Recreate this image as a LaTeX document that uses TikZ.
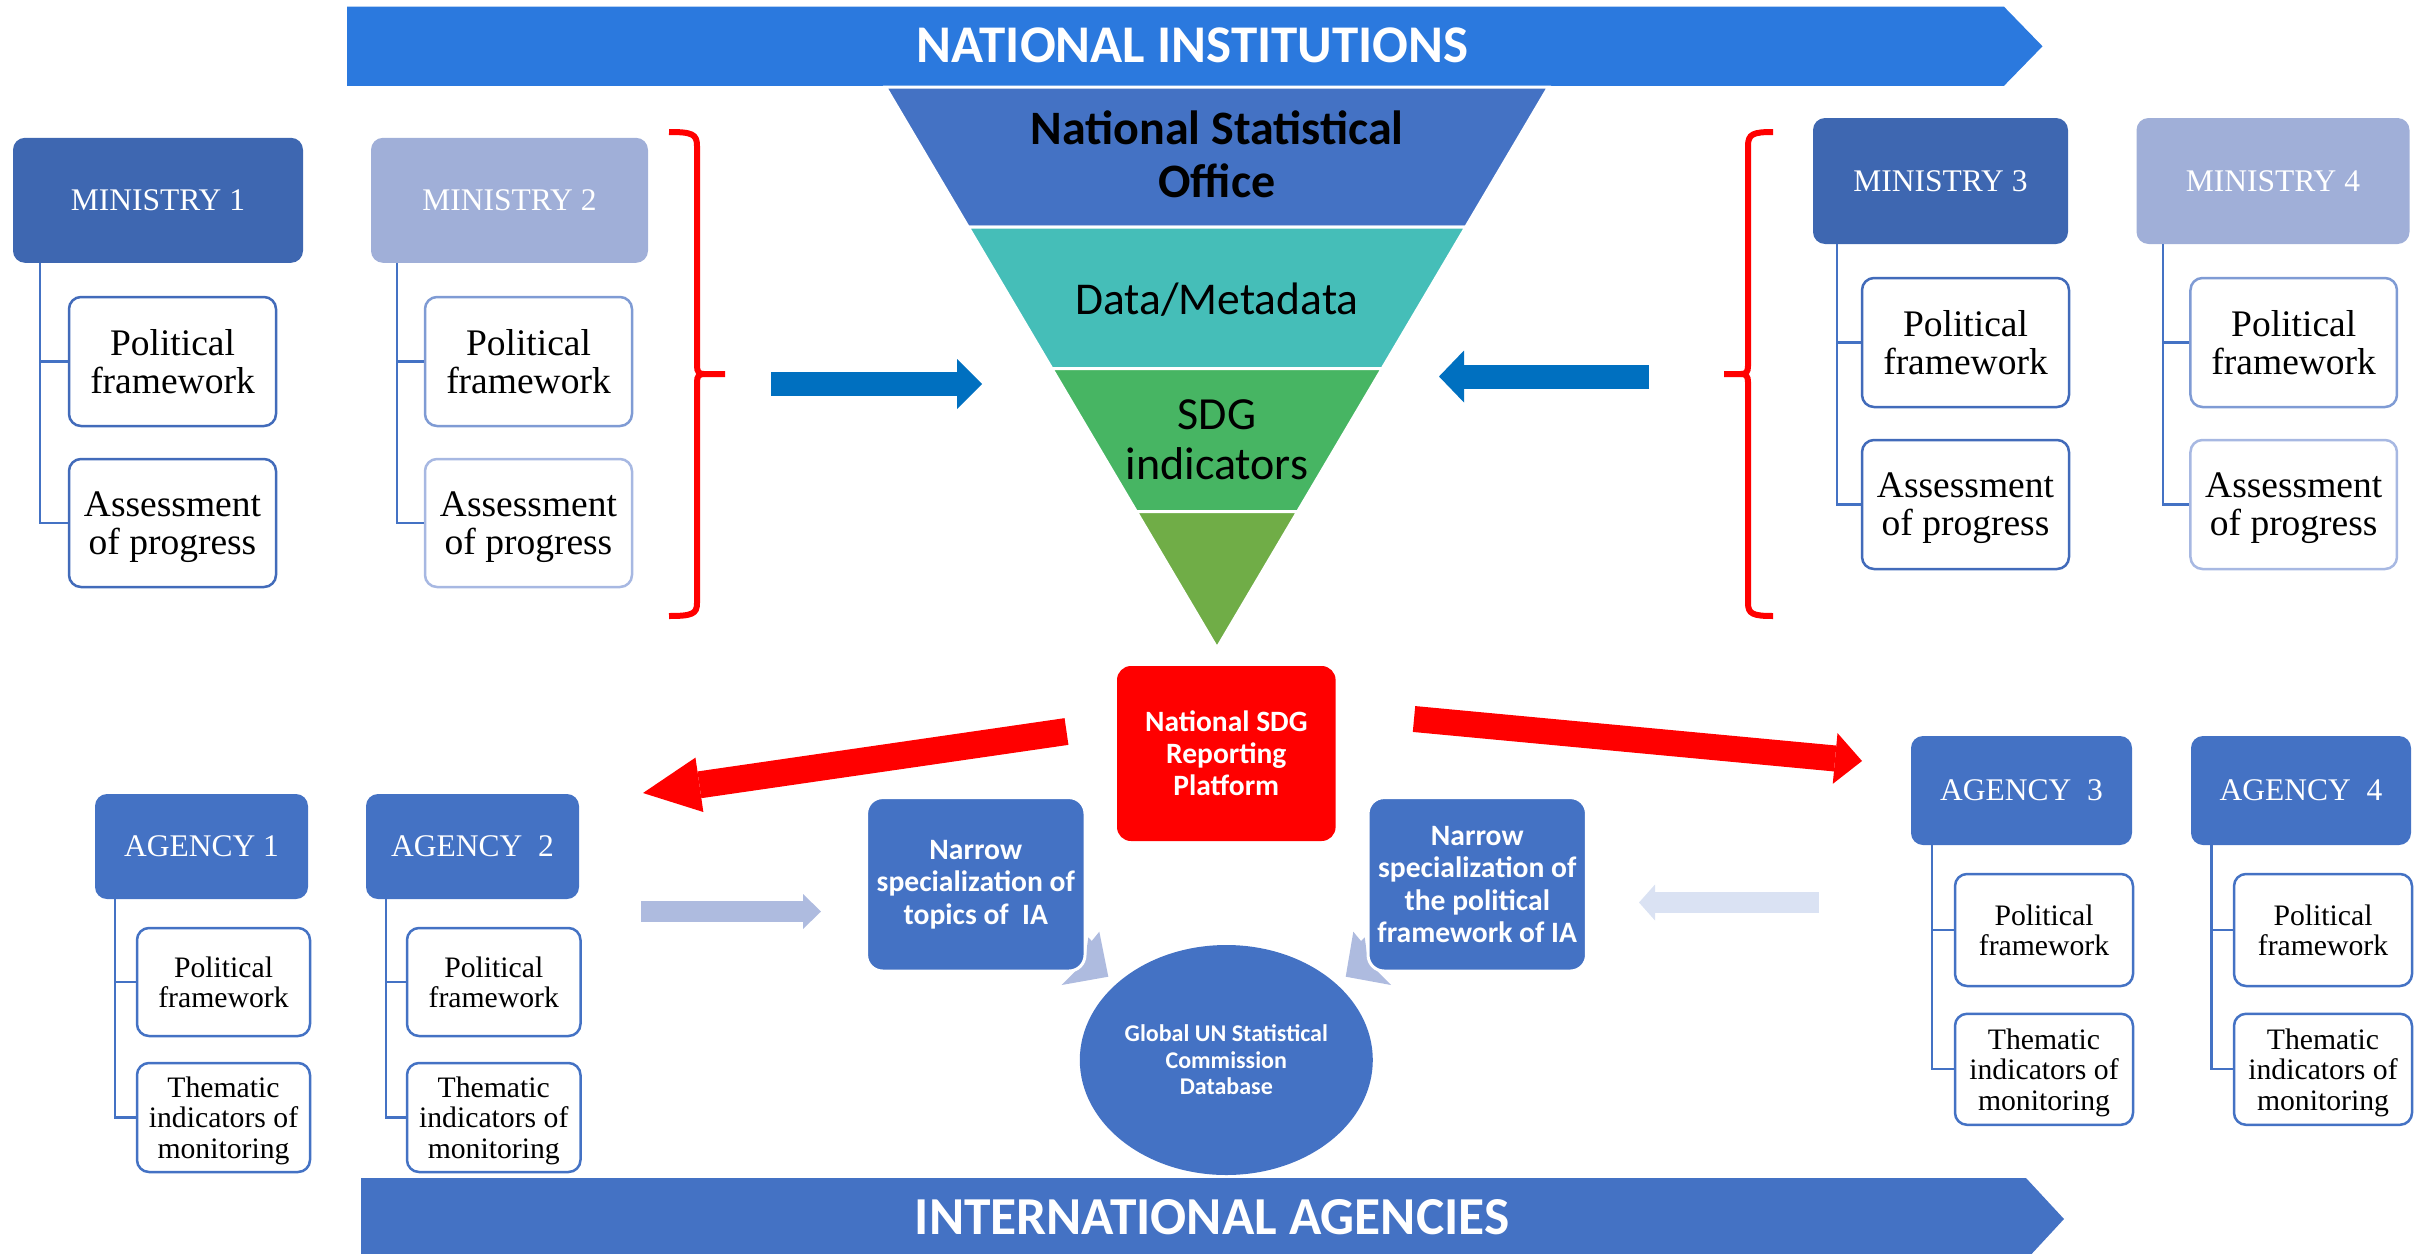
\documentclass[tikz,border=0pt]{standalone}
\usepackage{fontspec}
\setmainfont{Liberation Serif}
\newfontfamily\calfont{Carlito}
\usetikzlibrary{arrows.meta,calc,shapes.geometric}
\definecolor{topblue}{RGB}{43,121,222}
\definecolor{agblue}{RGB}{68,114,196}
\definecolor{mindark}{RGB}{62,103,177}
\definecolor{minlight}{RGB}{160,175,216}
\definecolor{bandteal}{RGB}{69,190,184}
\definecolor{bandgreen}{RGB}{71,181,99}
\definecolor{bandolive}{RGB}{112,173,71}
\definecolor{arrblue}{RGB}{0,112,192}
\definecolor{lightarr}{RGB}{174,187,223}
\definecolor{palearr}{RGB}{218,226,243}
\definecolor{chevcol}{RGB}{174,187,223}
\definecolor{bordermid}{RGB}{127,155,212}
\definecolor{borderpale}{RGB}{167,184,226}
\definecolor{borderdark}{RGB}{66,107,186}
\definecolor{redcol}{RGB}{255,0,0}
\tikzset{
  headbox/.style={rounded corners=12pt, inner sep=0pt, text=white, align=center},
  minbox/.style={headbox, font=\fontsize{31.5}{35}\selectfont},
  agbox/.style={headbox, fill=agblue, font=\fontsize{31.5}{35}\selectfont},
  childbox/.style={draw, line width=2.5pt, fill=white, rounded corners=12pt, inner sep=0pt, align=center, text depth=0pt},
  mchild/.style={childbox, font=\fontsize{37.5}{38}\selectfont},
  achild/.style={childbox, draw=agblue, font=\fontsize{29.7}{30.5}\selectfont},
  treeline/.style={draw=agblue, line width=2.2pt},
  band/.style={draw=white, line width=3pt},
  bracestyle/.style={draw=redcol, line width=6pt},
  sanslabel/.style={inner sep=0pt, align=center},
  narrowbox/.style={fill=agblue, draw=white, line width=3pt, rounded corners=16pt, inner sep=0pt, text=white, align=center, font=\calfont\bfseries\fontsize{29.6}{32.5}\selectfont, minimum width=218.4pt, minimum height=173.4pt},
}
\begin{document}
\begin{tikzpicture}[x=1pt,y=-1pt]
\useasboundingbox (0,0) rectangle (2423,1253);
\clip (0,0) rectangle (2423,1253);

% banners
\fill[topblue] (347,6.7) -- (2004,6.7) -- (2042.5,46.3) -- (2004,85.8) -- (347,85.8) -- cycle;
\node[sanslabel, text=white, font=\calfont\bfseries\fontsize{53}{57}\selectfont] (ni) at (1192.5,45) {NATIONAL INSTITUTIONS};
\fill[agblue] (361,1178) -- (2026,1178) -- (2064,1219) -- (2026,1260) -- (361,1260) -- cycle;
\node[sanslabel, text=white, font=\calfont\bfseries\fontsize{53.4}{57}\selectfont] (ia) at (1212,1217) {INTERNATIONAL AGENCIES};

% pyramid
\filldraw[band, fill=agblue] (885.5,87) -- (1548.5,87) -- (1465.8,227) -- (968.2,227) -- cycle;
\filldraw[band, fill=bandteal] (968.2,227) -- (1465.8,227) -- (1382.2,368.5) -- (1051.8,368.5) -- cycle;
\filldraw[band, fill=bandgreen] (1051.8,368.5) -- (1382.2,368.5) -- (1297.7,511.5) -- (1136.3,511.5) -- cycle;
\filldraw[band, fill=bandolive] (1136.3,511.5) -- (1297.7,511.5) -- (1217,648) -- cycle;
\node[sanslabel, font=\calfont\bfseries\fontsize{48}{53}\selectfont] (nso) at (1217,154) {National Statistical\\Office};
\node[sanslabel, font=\calfont\fontsize{45.5}{50}\selectfont, anchor=base] (dm) at (1217,314) {Data/Metadata};
\node[sanslabel, font=\calfont\fontsize{46}{50}\selectfont] (sdg) at (1217,440) {SDG\\indicators};

% ministries
\node[minbox, fill=mindark, minimum width=290pt, minimum height=125pt] (m1) at (158,200.3) {MINISTRY 1};
\node[minbox, fill=minlight, minimum width=277pt, minimum height=125pt] (m2) at (509.5,200.3) {MINISTRY 2};
\node[minbox, fill=mindark, minimum width=255pt, minimum height=126pt] (m3) at (1940.5,181) {MINISTRY 3};
\node[minbox, fill=minlight, minimum width=273pt, minimum height=126pt] (m4) at (2273,181) {MINISTRY 4};

\node[mchild, draw=borderdark, minimum width=207pt, minimum height=129pt] (m1a) at (172.5,361.5) {Political\\framework};
\node[mchild, draw=borderdark, minimum width=207pt, minimum height=128pt] (m1b) at (172.5,523) {Assessment\\of progress};
\node[mchild, draw=bordermid, minimum width=207pt, minimum height=129pt] (m2a) at (528.5,361.5) {Political\\framework};
\node[mchild, draw=borderpale, minimum width=207pt, minimum height=128pt] (m2b) at (528.5,523) {Assessment\\of progress};
\node[mchild, draw=borderdark, minimum width=207pt, minimum height=129pt] (m3a) at (1965.5,342.5) {Political\\framework};
\node[mchild, draw=borderdark, minimum width=207pt, minimum height=129pt] (m3b) at (1965.5,504.5) {Assessment\\of progress};
\node[mchild, draw=bordermid, minimum width=206.5pt, minimum height=129pt] (m4a) at (2293.7,342.5) {Political\\framework};
\node[mchild, draw=borderpale, minimum width=206.5pt, minimum height=129pt] (m4b) at (2293.7,504.5) {Assessment\\of progress};

\draw[treeline] ($(m1.south west)+(27,0)$) |- (m1a.west);
\draw[treeline] ($(m1.south west)+(27,0)$) |- (m1b.west);
\draw[treeline] ($(m2.south west)+(26,0)$) |- (m2a.west);
\draw[treeline] ($(m2.south west)+(26,0)$) |- (m2b.west);
\draw[treeline] ($(m3.south west)+(24,0)$) |- (m3a.west);
\draw[treeline] ($(m3.south west)+(24,0)$) |- (m3b.west);
\draw[treeline] ($(m4.south west)+(26.5,0)$) |- (m4a.west);
\draw[treeline] ($(m4.south west)+(26.5,0)$) |- (m4b.west);

% braces
\draw[bracestyle] (669,132) .. controls (692,132) and (697,134) .. (697,146) -- (697,366) .. controls (697,372) and (699,374) .. (704,374) -- (725,374);
\draw[bracestyle] (704,374) .. controls (699,374) and (697,376) .. (697,382) -- (697,603) .. controls (697,614) and (692,616) .. (669,616);
\draw[bracestyle] (1773,132) .. controls (1753,132) and (1748,134) .. (1748,146) -- (1748,366) .. controls (1748,372) and (1746,374) .. (1741,374) -- (1724,374);
\draw[bracestyle] (1741,374) .. controls (1746,374) and (1748,376) .. (1748,382) -- (1748,603) .. controls (1748,614) and (1753,616) .. (1773,616);

% blue arrows toward pyramid
\coordinate (bl1) at (771,384);
\coordinate (bl2) at (982,384);
\coordinate (br1) at (1649,376.5);
\coordinate (br2) at (1439,376.5);
\draw[draw=arrblue, line width=24pt, -{Triangle[length=25pt,width=50pt,line width=0pt]}] (bl1) -- (bl2);
\draw[draw=arrblue, line width=24pt, -{Triangle[length=25pt,width=52pt,line width=0pt]}] (br1) -- (br2);

% red platform
\node[fill=redcol, rounded corners=14pt, minimum width=218.6pt, minimum height=175pt, inner sep=0pt, text=white, align=center, font=\calfont\bfseries\fontsize{29.5}{32}\selectfont] (rsp) at (1226.3,753.5) {National SDG\\Reporting\\Platform};

\coordinate (rl1) at (1066.5,731.5);
\coordinate (rl2) at (643,793);
\coordinate (rr1) at (1414,719);
\coordinate (rr2) at (1862,761);
\draw[draw=redcol, line width=27pt, -{Triangle[length=57pt,width=55pt,line width=0pt]}] (rl1) -- (rl2);
\draw[draw=redcol, line width=26pt, -{Triangle[length=27pt,width=51pt,line width=0pt]}] (rr1) -- (rr2);

% agencies
\node[agbox, minimum width=213pt, minimum height=105pt] (a1) at (201.5,846.5) {AGENCY 1};
\node[agbox, minimum width=213pt, minimum height=105pt] (a2) at (472.5,846.5) {AGENCY\ \ 2};
\node[agbox, minimum width=221pt, minimum height=109pt] (a3) at (2021.5,790.5) {AGENCY\ \ 3};
\node[agbox, minimum width=220pt, minimum height=109pt] (a4) at (2301,790.5) {AGENCY\ \ 4};

\node[achild, minimum width=173pt, minimum height=108pt] (a1a) at (223.5,982) {Political\\framework};
\node[achild, minimum width=173pt, minimum height=109pt] (a1b) at (223.5,1117.5) {Thematic\\indicators of\\monitoring};
\node[achild, minimum width=173.5pt, minimum height=108pt] (a2a) at (493.75,982) {Political\\framework};
\node[achild, minimum width=173.5pt, minimum height=109pt] (a2b) at (493.75,1117.5) {Thematic\\indicators of\\monitoring};
\node[achild, minimum width=178pt, minimum height=112pt] (a3a) at (2044,930) {Political\\framework};
\node[achild, minimum width=178pt, minimum height=111pt] (a3b) at (2044,1069.3) {Thematic\\indicators of\\monitoring};
\node[achild, minimum width=178pt, minimum height=112pt] (a4a) at (2323,930) {Political\\framework};
\node[achild, minimum width=178pt, minimum height=111pt] (a4b) at (2323,1069.3) {Thematic\\indicators of\\monitoring};

\draw[treeline] ($(a1.south west)+(20,0)$) |- (a1a.west);
\draw[treeline] ($(a1.south west)+(20,0)$) |- (a1b.west);
\draw[treeline] ($(a2.south west)+(20.5,0)$) |- (a2a.west);
\draw[treeline] ($(a2.south west)+(20.5,0)$) |- (a2b.west);
\draw[treeline] ($(a3.south west)+(21.5,0)$) |- (a3a.west);
\draw[treeline] ($(a3.south west)+(21.5,0)$) |- (a3b.west);
\draw[treeline] ($(a4.south west)+(20.6,0)$) |- (a4a.west);
\draw[treeline] ($(a4.south west)+(20.6,0)$) |- (a4b.west);

% light arrows toward the narrow boxes
\coordinate (ll1) at (641,911.5);
\coordinate (ll2) at (821,911.5);
\coordinate (lr1) at (1819,902.5);
\coordinate (lr2) at (1639,902.5);
\draw[draw=lightarr, line width=21pt, -{Triangle[length=18pt,width=35pt,line width=0pt]}] (ll1) -- (ll2);
\draw[draw=palearr, line width=21pt, -{Triangle[length=16pt,width=36pt,line width=0pt]}] (lr1) -- (lr2);

% chevrons toward the database
\fill[chevcol] (1099.3,931.7) -- (1108.3,976.7) -- (1061.7,985) -- (1085,961.7) -- (1088.3,937.3) -- (1091.7,941) -- cycle;
\fill[chevcol] (1353.3,931.7) -- (1345.7,976.7) -- (1391,985) -- (1368,961.7) -- (1364.7,937.3) -- (1361,941) -- cycle;

% narrow boxes and database
\node[narrowbox] (nl) at (975.8,884.3) {Narrow\\specialization of\\topics of\ \ IA};
\node[narrowbox] (nr) at (1477.25,884.3) {Narrow\\specialization of\\the political\\framework of IA};
\node[ellipse, fill=agblue, minimum width=293pt, minimum height=230pt, inner sep=0pt, text=white, align=center, font=\calfont\bfseries\fontsize{24}{26.5}\selectfont] (db) at (1226.3,1060) {Global UN Statistical\\Commission\\Database};
\end{tikzpicture}
\end{document}
